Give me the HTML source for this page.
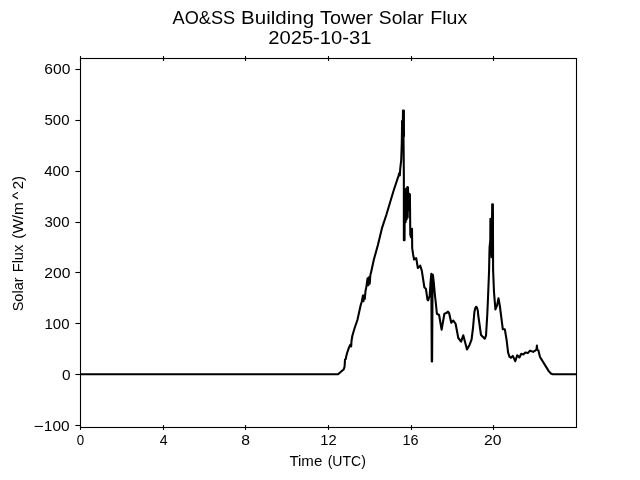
<!DOCTYPE html>
<html><head><meta charset="utf-8"><title>AO&amp;SS Building Tower Solar Flux</title>
<style>
html,body{margin:0;padding:0;background:#fff;}
body{width:640px;height:480px;overflow:hidden;font-family:"Liberation Sans",sans-serif;}
svg{display:block;will-change:transform;}
text{font-family:"Liberation Sans",sans-serif;fill:#000;}
</style></head><body>
<svg width="640" height="480" viewBox="0 0 640 480">
<rect width="640" height="480" fill="#fff"/>
<defs><clipPath id="ax"><rect x="80" y="58" width="496.5" height="369.5"/></clipPath></defs>
<g clip-path="url(#ax)"><path d="M80.00,374.20 L338.10,374.20 L343.80,369.30 L344.60,366.50 L345.00,359.60 L345.80,359.00 L346.20,356.50 L347.10,353.00 L348.90,347.70 L350.20,344.90 L351.20,346.30 L351.50,341.00 L352.30,336.00 L354.40,328.75 L357.40,320.00 L360.60,305.50 L361.90,301.30 L362.90,295.60 L363.50,301.20 L364.20,295.20 L364.80,298.80 L365.50,291.00 L366.40,286.60 L367.60,278.20 L368.30,285.30 L369.00,277.20 L369.70,283.80 L370.30,275.50 L371.60,270.00 L373.75,260.00 L377.90,245.00 L381.90,228.40 L386.30,215.00 L390.80,200.00 L393.80,190.00 L398.50,175.80 L399.10,173.20 L399.80,175.40 L400.20,169.20 L401.20,160.00 L401.75,144.00 L402.00,130.00 L402.05,121.00 L402.90,119.80 L402.98,110.50 L403.90,110.50 L403.95,136.30 L403.50,136.80 L403.85,175.00 L403.85,240.20 L404.55,240.20 L404.80,189.50 L405.60,222.30 L406.20,188.50 L406.60,219.50 L407.40,187.10 L407.70,217.50 L408.00,187.30 L408.40,210.00 L408.80,193.50 L409.30,210.30 L409.90,194.30 L410.30,234.50 L411.00,237.30 L412.00,228.80 L412.20,248.10 L413.10,254.40 L414.10,259.50 L416.25,258.20 L417.50,266.00 L417.90,268.00 L420.20,265.60 L421.80,270.60 L424.40,287.50 L425.90,288.75 L427.50,299.80 L428.10,300.30 L429.70,295.80 L430.50,283.00 L431.30,273.90 L431.75,361.50 L432.10,361.50 L432.60,274.60 L432.90,274.90 L433.85,283.00 L434.90,295.00 L435.50,300.00 L436.90,313.75 L439.10,315.00 L441.60,329.70 L444.40,313.75 L446.25,313.10 L448.00,311.60 L449.10,313.10 L451.25,322.70 L453.30,320.60 L455.60,323.75 L458.30,338.00 L461.10,341.60 L463.25,335.30 L467.00,349.40 L469.75,344.40 L471.60,339.40 L473.00,328.00 L474.40,312.00 L475.30,308.00 L476.10,306.75 L476.90,307.50 L477.80,310.50 L478.20,315.00 L481.00,335.00 L484.75,338.75 L486.00,335.60 L487.25,315.00 L488.00,298.00 L489.10,270.00 L489.40,254.00 L489.60,247.00 L490.30,240.00 L490.40,218.80 L491.60,257.30 L492.20,204.20 L492.90,204.20 L493.10,270.00 L494.00,292.00 L495.40,309.40 L497.00,305.60 L498.50,298.20 L499.90,306.25 L501.00,315.00 L502.80,329.10 L504.80,329.20 L506.60,340.00 L508.10,352.50 L509.40,356.60 L510.90,357.80 L512.80,355.90 L515.30,361.25 L517.20,355.30 L519.40,357.50 L521.25,353.75 L523.40,354.40 L525.30,352.50 L527.80,353.10 L530.00,350.60 L533.10,351.90 L535.60,350.30 L536.50,349.50 L536.90,345.60 L537.30,349.60 L538.40,350.40 L540.00,357.00 L548.75,371.10 L550.90,373.50 L552.60,374.20 L577.00,374.20" fill="none" stroke="#000" stroke-width="2.08" stroke-linejoin="round" stroke-linecap="butt"/></g>
<g stroke="#000" stroke-width="1.1" fill="none">
<rect x="80.5" y="58.5" width="496.0" height="369.0"/>
<line x1="80.5" y1="425.07" x2="80.5" y2="429.93"/><line x1="80.5" y1="56.07" x2="80.5" y2="60.93"/><line x1="163.5" y1="425.07" x2="163.5" y2="429.93"/><line x1="163.5" y1="56.07" x2="163.5" y2="60.93"/><line x1="245.5" y1="425.07" x2="245.5" y2="429.93"/><line x1="245.5" y1="56.07" x2="245.5" y2="60.93"/><line x1="328.5" y1="425.07" x2="328.5" y2="429.93"/><line x1="328.5" y1="56.07" x2="328.5" y2="60.93"/><line x1="411.5" y1="425.07" x2="411.5" y2="429.93"/><line x1="411.5" y1="56.07" x2="411.5" y2="60.93"/><line x1="493.5" y1="425.07" x2="493.5" y2="429.93"/><line x1="493.5" y1="56.07" x2="493.5" y2="60.93"/><line x1="75.4" y1="69.5" x2="80.5" y2="69.5"/><line x1="75.4" y1="120.5" x2="80.5" y2="120.5"/><line x1="75.4" y1="171.5" x2="80.5" y2="171.5"/><line x1="75.4" y1="222.5" x2="80.5" y2="222.5"/><line x1="75.4" y1="272.5" x2="80.5" y2="272.5"/><line x1="75.4" y1="323.5" x2="80.5" y2="323.5"/><line x1="75.4" y1="374.5" x2="80.5" y2="374.5"/><line x1="75.4" y1="425.5" x2="80.5" y2="425.5"/>
</g>
<g>
<text x="172.60" y="23.60" textLength="62.53" lengthAdjust="spacingAndGlyphs" font-size="17.5">AO&amp;SS</text>
<text x="241.06" y="23.60" textLength="73.04" lengthAdjust="spacingAndGlyphs" font-size="17.5">Building</text>
<text x="320.00" y="23.60" textLength="52.74" lengthAdjust="spacingAndGlyphs" font-size="17.5">Tower</text>
<text x="378.84" y="23.60" textLength="44.94" lengthAdjust="spacingAndGlyphs" font-size="17.5">Solar</text>
<text x="430.23" y="23.60" textLength="37.05" lengthAdjust="spacingAndGlyphs" font-size="17.5">Flux</text>
<text x="268.19" y="43.90" textLength="103.33" lengthAdjust="spacingAndGlyphs" font-size="17.5">2025-10-31</text>
<text x="76.87" y="445.00" textLength="7.42" lengthAdjust="spacingAndGlyphs" font-size="14.4">0</text>
<text x="159.72" y="445.00" textLength="7.85" lengthAdjust="spacingAndGlyphs" font-size="14.4">4</text>
<text x="241.27" y="445.00" textLength="8.76" lengthAdjust="spacingAndGlyphs" font-size="14.4">8</text>
<text x="320.22" y="445.00" textLength="16.34" lengthAdjust="spacingAndGlyphs" font-size="14.4">12</text>
<text x="402.44" y="445.00" textLength="16.07" lengthAdjust="spacingAndGlyphs" font-size="14.4">16</text>
<text x="484.12" y="445.00" textLength="17.45" lengthAdjust="spacingAndGlyphs" font-size="14.4">20</text>
<text x="44.32" y="73.85" textLength="25.98" lengthAdjust="spacingAndGlyphs" font-size="14.4">600</text>
<text x="44.50" y="124.85" textLength="24.98" lengthAdjust="spacingAndGlyphs" font-size="14.4">500</text>
<text x="44.15" y="175.85" textLength="25.34" lengthAdjust="spacingAndGlyphs" font-size="14.4">400</text>
<text x="44.50" y="226.85" textLength="24.98" lengthAdjust="spacingAndGlyphs" font-size="14.4">300</text>
<text x="44.32" y="277.75" textLength="26.08" lengthAdjust="spacingAndGlyphs" font-size="14.4">200</text>
<text x="44.50" y="328.75" textLength="24.98" lengthAdjust="spacingAndGlyphs" font-size="14.4">100</text>
<text x="62.08" y="379.75" textLength="8.58" lengthAdjust="spacingAndGlyphs" font-size="14.4">0</text>
<text x="33.43" y="430.50" textLength="10.13" lengthAdjust="spacingAndGlyphs" font-size="14.4">−</text>
<text x="43.86" y="430.50" textLength="25.78" lengthAdjust="spacingAndGlyphs" font-size="14.4">100</text>
<text x="289.40" y="465.50" textLength="32.88" lengthAdjust="spacingAndGlyphs" font-size="14.4">Time</text>
<text x="327.66" y="465.50" textLength="38.20" lengthAdjust="spacingAndGlyphs" font-size="14.4">(UTC)</text>
<text transform="translate(22.50,311.00) rotate(-90)" x="-0.32" y="0" textLength="33.84" lengthAdjust="spacingAndGlyphs" font-size="14.4">Solar</text>
<text transform="translate(22.50,311.00) rotate(-90)" x="38.74" y="0" textLength="27.50" lengthAdjust="spacingAndGlyphs" font-size="14.4">Flux</text>
<text transform="translate(22.50,311.00) rotate(-90)" x="72.28" y="0" textLength="36.66" lengthAdjust="spacingAndGlyphs" font-size="14.4">(W/m</text>
<text transform="translate(22.50,311.00) rotate(-90)" x="111.53" y="0" textLength="7.82" lengthAdjust="spacingAndGlyphs" font-size="14.4">^</text>
<text transform="translate(22.50,311.00) rotate(-90)" x="121.75" y="0" textLength="13.34" lengthAdjust="spacingAndGlyphs" font-size="14.4">2)</text>
</g>
</svg>
</body></html>
